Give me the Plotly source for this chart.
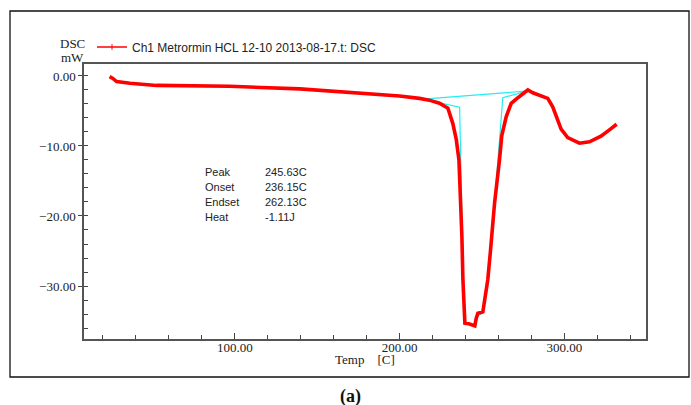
import plotly.graph_objects as go

# DSC trace: temperature [C] vs heat flow [mW]
temp = [24.0, 26.0, 28.3, 36.4, 52.5, 97.0, 139.4, 169.7, 190.0, 200.0, 212.0,
        218.0, 224.2, 229.3, 232.3, 234.4, 236.0, 237.0, 237.8, 238.4, 239.0, 239.6,
        242.0, 245.0, 245.63, 246.5, 247.5, 250.5, 252.5, 253.5, 255.0, 257.6,
        260.6, 262.0, 264.7, 267.7, 270.7, 272.7, 275.2, 277.8, 280.8, 286.8, 289.9,
        292.9, 295.0, 298.0, 302.0, 309.1, 315.2, 322.2, 327.3, 331.7]
dsc = [-0.1, -0.35, -0.8, -1.05, -1.35, -1.47, -1.85, -2.3, -2.6, -2.85, -3.2,
       -3.45, -3.9, -4.6, -6.8, -9.1, -12.0, -17.0, -23.0, -29.0, -33.5, -35.3,
       -35.4, -35.6, -35.7, -34.6, -33.9, -33.7, -31.0, -29.1, -25.3, -18.2,
       -12.0, -8.5, -5.8, -3.9, -3.3, -2.95, -2.4, -2.0, -2.4, -2.95, -3.2,
       -4.4, -5.8, -7.6, -8.8, -9.6, -9.4, -8.6, -7.7, -6.9]

# Peak analysis construction lines (tangent, baseline, peak legs)
cons_t = [214.1, 236.4, 238.4, 239.2, 239.8, 245.0, 246.1, 247.5, 250.5, 253.0,
          255.6, 262.6, 277.8, None, 214.1, 277.8]
cons_y = [-3.3, -4.47, -26.3, -34.5, -35.3, -35.6, -35.8, -34.2, -33.9, -30.2,
          -24.4, -3.1, -2.14, None, -3.3, -2.14]

# Peak analysis results
res_names = ["Peak", "Onset", "Endset", "Heat"]
res_values = ["245.63C", "236.15C", "262.13C", "-1.11J"]

legend_name = "Ch1 Metrormin HCL 12-10 2013-08-17.t: DSC"

W, H = 691, 405
L, R, T, B = 84, 646, 64, 339


def px(x):
    return (x - L) / (R - L)


def py(y):
    return (B - y) / (B - T)


fig = go.Figure()
fig.add_trace(go.Scatter(x=cons_t, y=cons_y, mode="lines",
                         line=dict(color="#22EEF2", width=1.2),
                         showlegend=False, hoverinfo="skip"))
fig.add_trace(go.Scatter(x=temp, y=dsc, mode="lines", showlegend=False,
                         line=dict(color="#FF0000", width=3.6)))
# legend entry: thin line with a small tick marker
fig.add_trace(go.Scatter(x=[None], y=[None], mode="lines+markers", name=legend_name,
                         line=dict(color="#FF0000", width=1.6),
                         marker=dict(symbol="line-ns", size=4,
                                     line=dict(color="#FF0000", width=1))))

serif = "Liberation Serif"
sans = "Liberation Sans"

fig.update_layout(
    width=W, height=H,
    margin=dict(l=L, r=W - R, t=T, b=H - B),
    paper_bgcolor="white", plot_bgcolor="white",
    showlegend=True,
    legend=dict(x=px(92), y=py(47), xanchor="left", yanchor="middle",
                font=dict(family=sans, size=12, color="#222"),
                bgcolor="rgba(0,0,0,0)", itemwidth=30),
    xaxis=dict(range=[8.5, 349.5], dtick=100, tick0=0, tickformat=".2f",
               ticks="inside", ticklen=6, tickcolor="#444",
               minor=dict(dtick=20, tick0=0, ticks="inside", ticklen=4, tickcolor="#444"),
               showgrid=False, zeroline=False, ticklabelstandoff=-4,
               showline=True, mirror=True, linecolor="#555", linewidth=1.5,
               tickfont=dict(family=serif, size=13, color="#222")),
    yaxis=dict(range=[-37.57, 1.71], dtick=10, tick0=0, tickformat=".2f",
               ticks="outside", ticklen=4, tickcolor="#444",
               minor=dict(dtick=2, tick0=0, ticks="inside", ticklen=4, tickcolor="#444"),
               showgrid=False, zeroline=False,
               showline=True, mirror=True, linecolor="#555", linewidth=1.5,
               tickfont=dict(family=serif, size=13, color="#222")),
)

# outer frame
fig.add_shape(type="rect", xref="paper", yref="paper",
              x0=px(10), x1=px(689), y0=py(377), y1=py(11),
              line=dict(color="#111", width=1.3), layer="below")

ann = []
ann.append(dict(text="DSC", x=px(72), y=py(44)))
ann.append(dict(text="mW", x=px(72), y=py(57)))
ann.append(dict(text="Temp&nbsp;&nbsp;&nbsp;&nbsp;[C]", x=px(365), y=py(359)))
for a in ann:
    a.update(xref="paper", yref="paper", showarrow=False, xanchor="center", yanchor="middle",
             font=dict(family=serif, size=13, color="#222"))
    fig.add_annotation(**a)

fig.add_annotation(text="<b>(a)</b>", x=px(350), y=py(396), xref="paper", yref="paper",
                   showarrow=False, xanchor="center", yanchor="middle",
                   font=dict(family=serif, size=18, color="#111"))

rows_y = [172, 187, 202, 217]
for name, val, yy in zip(res_names, res_values, rows_y):
    fig.add_annotation(text=name, x=px(203), y=py(yy), xref="paper", yref="paper",
                       showarrow=False, xanchor="left", yanchor="middle",
                       font=dict(family=sans, size=11, color="#222"))
    fig.add_annotation(text=val, x=px(263), y=py(yy), xref="paper", yref="paper",
                       showarrow=False, xanchor="left", yanchor="middle",
                       font=dict(family=sans, size=11, color="#222"))

fig.write_html("out.html")
